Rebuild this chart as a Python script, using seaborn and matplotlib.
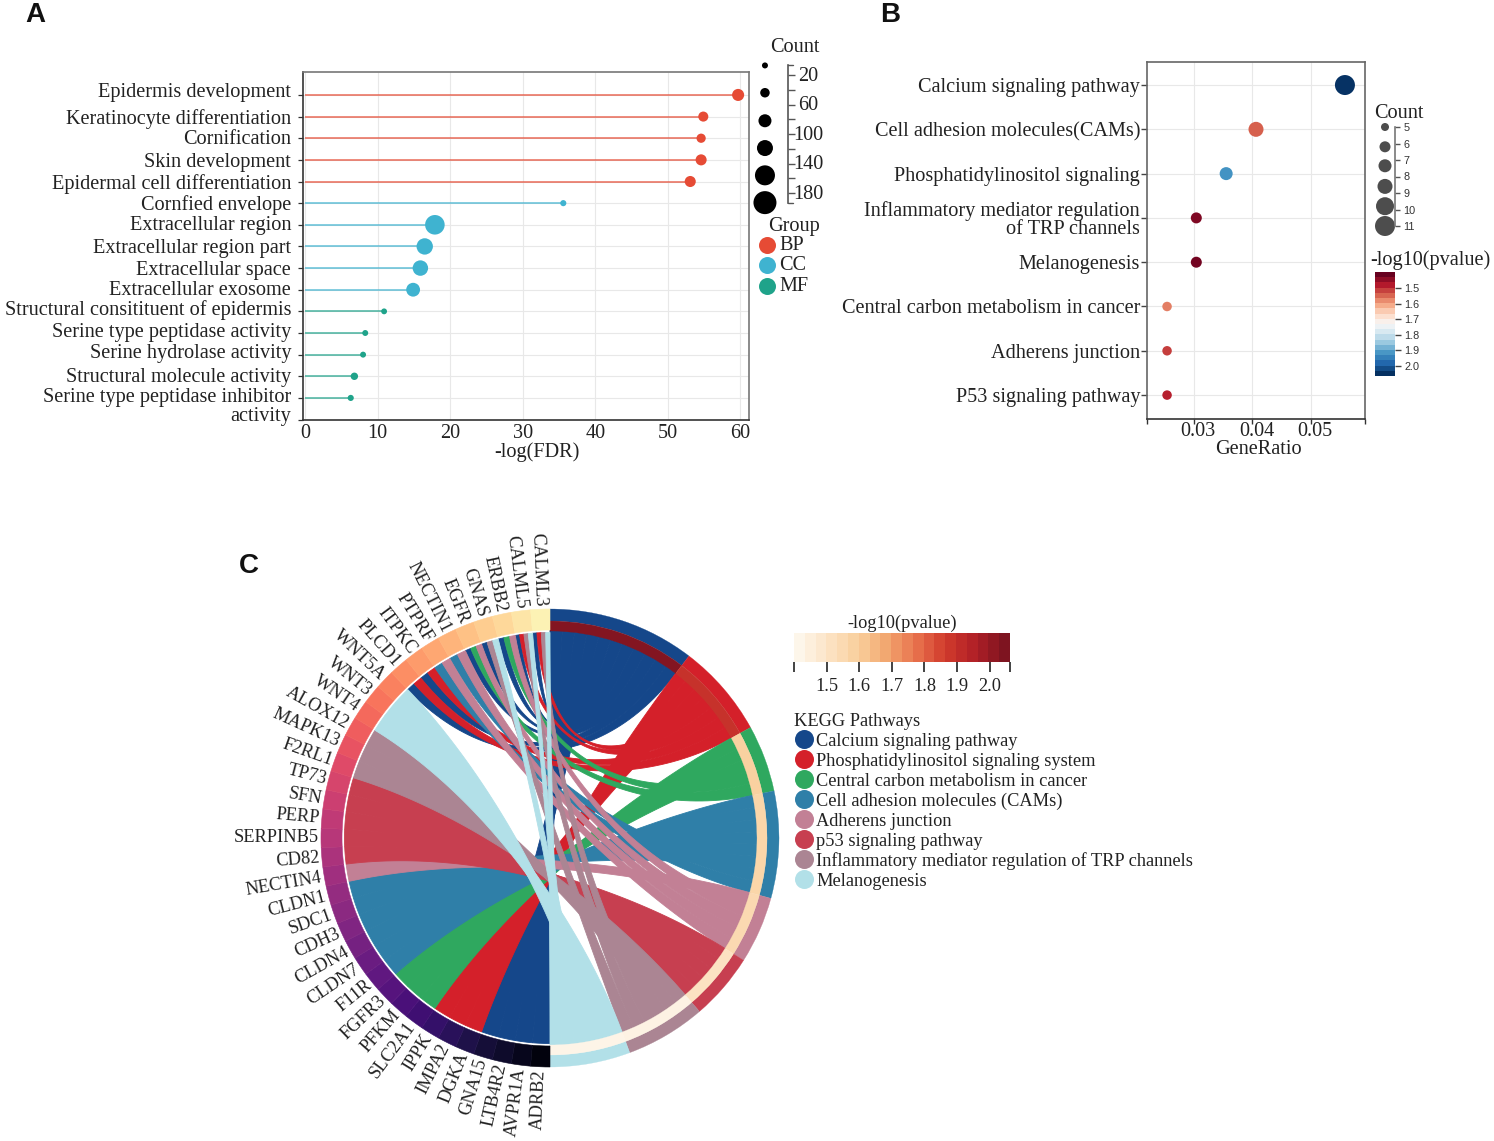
import numpy as np
import pandas as pd
import matplotlib
matplotlib.use("Agg")
import matplotlib.pyplot as plt
from matplotlib.patches import Wedge, Polygon
from matplotlib.cm import ScalarMappable
from matplotlib.colors import Normalize, LinearSegmentedColormap, BoundaryNorm, ListedColormap
from matplotlib.transforms import ScaledTranslation
import seaborn as sns

# ---------- data ----------
terms_a = ["Epidermis development", "Keratinocyte differentiation", "Cornification", "Skin development",
           "Epidermal cell differentiation", "Cornfied envelope", "Extracellular region", "Extracellular region part",
           "Extracellular space", "Extracellular exosome", "Structural consitituent of epidermis",
           "Serine type peptidase activity", "Serine hydrolase activity", "Structural molecule activity",
           "Serine type peptidase inhibitor\nactivity"]
fdr_a = [59.7, 54.9, 54.6, 54.6, 53.1, 35.6, 17.9, 16.5, 15.9, 14.9, 10.9, 8.3, 8.0, 6.8, 6.3]
count_a = [73, 51, 42, 62, 62, 8, 155, 120, 110, 92, 5, 6, 6, 22, 8]
group_a = ["BP"] * 5 + ["CC"] * 5 + ["MF"] * 5
group_names = ["BP", "CC", "MF"]
group_colors = ["#e64b35", "#3fb3d0", "#1fa38a"]
count_ticks_a = [20, 60, 100, 140, 180]
count_minor_a = [40, 80, 120, 160]
count_legend_a = [7, 44, 82, 119, 156, 193]

terms_b = ["Calcium signaling pathway", "Cell adhesion molecules(CAMs)", "Phosphatidylinositol signaling",
           "Inflammatory mediator regulation\nof TRP channels", "Melanogenesis",
           "Central carbon metabolism in cancer", "Adherens junction", "P53 signaling pathway"]
ratio_b = [0.0558, 0.0406, 0.0355, 0.0304, 0.0304, 0.0254, 0.0254, 0.0254]
count_b = [11, 8, 7, 6, 6, 5, 5, 5]
logp_b = [2.06, 1.53, 1.93, 1.42, 1.41, 1.56, 1.50, 1.47]
count_legend_b = [5, 6, 7, 8, 9, 10]

pathways = ["Calcium signaling pathway", "Phosphatidylinositol signaling system",
            "Central carbon metabolism in cancer", "Cell adhesion molecules (CAMs)", "Adherens junction",
            "p53 signaling pathway", "Inflammatory mediator regulation of TRP channels", "Melanogenesis"]
pathway_colors = ["#15478a", "#d4202a", "#2fa85f", "#2f7fa8", "#c28095", "#c73f50", "#ab8593", "#b2e0e8"]
logp_c = [2.05, 1.90, 1.58, 1.56, 1.54, 1.50, 1.42, 1.41]
genes = ["ADRB2", "AVPR1A", "LTB4R2", "GNA15", "DGKA", "IMPA2", "IPPK", "SLC2A1", "PFKM", "FGFR3", "F11R", "CLDN7",
         "CLDN4", "CDH3", "SDC1", "CLDN1", "NECTIN4", "CD82", "SERPINB5", "PERP", "SFN", "TP73", "F2RL1", "MAPK13",
         "ALOX12", "WNT4", "WNT3", "WNT5A", "PLCD1", "ITPKC", "PTPRF", "NECTIN1", "EGFR", "GNAS", "ERBB2", "CALML5",
         "CALML3"]
members = [
    ["ADRB2", "AVPR1A", "LTB4R2", "GNA15", "CALML3", "CALML5", "ERBB2", "GNAS", "EGFR", "ITPKC", "PLCD1"],
    ["DGKA", "IMPA2", "IPPK", "CALML3", "CALML5", "ITPKC", "PLCD1"],
    ["SLC2A1", "PFKM", "FGFR3", "ERBB2", "EGFR"],
    ["F11R", "CLDN7", "CLDN4", "CDH3", "SDC1", "CLDN1", "NECTIN1", "PTPRF"],
    ["NECTIN4", "ERBB2", "EGFR", "NECTIN1", "PTPRF"],
    ["CD82", "SERPINB5", "PERP", "SFN", "TP73"],
    ["F2RL1", "MAPK13", "ALOX12", "CALML3", "CALML5", "GNAS"],
    ["WNT4", "WNT3", "WNT5A", "GNAS", "CALML5", "CALML3"],
]

# ---------- style ----------
W, H = 1494, 1141
sns.set_theme(style="white")
plt.rcParams["font.family"] = ["Liberation Serif", "DejaVu Serif"]
plt.rcParams["text.color"] = "#222222"
plt.rcParams["axes.labelcolor"] = "#222222"
plt.rcParams["xtick.color"] = "#222222"
plt.rcParams["ytick.color"] = "#222222"
FS = 14.6
fig = plt.figure(figsize=(W / 100, H / 100), dpi=100, facecolor="white")

def px_axes(x0, y0, x1, y1, **kw):
    return fig.add_axes([x0 / W, 1 - y1 / H, (x1 - x0) / W, (y1 - y0) / H], **kw)

overlay = px_axes(0, 0, W, H, zorder=10)
overlay.set_xlim(0, W); overlay.set_ylim(H, 0); overlay.axis("off"); overlay.patch.set_alpha(0)

for s, x, y in [("A", 35, 15), ("B", 890, 15), ("C", 249, 566)]:
    overlay.text(x, y, s, family="Liberation Sans", weight="bold", fontsize=20, ha="center", va="center", color="#111111")

def d2s(d):
    return (d * 0.72) ** 2

# ---------- panel A ----------
ax = px_axes(303, 72, 749, 420)
df_a = pd.DataFrame({"term": terms_a, "fdr": fdr_a, "count": count_a, "group": group_a})
pal_a = dict(zip(group_names, group_colors))
dia_a = lambda c: 5.4 + 0.0914 * c
ax.hlines(df_a["term"], 0, df_a["fdr"], colors=df_a["group"].map(pal_a), lw=1.2, alpha=0.75, zorder=2)
sns.scatterplot(data=df_a, x="fdr", y="term", hue="group", palette=pal_a, size="count",
                sizes={c: d2s(dia_a(c)) for c in df_a["count"].unique()}, linewidth=0, legend=False, ax=ax, zorder=3)
ax.set_xlim(-0.28, 61.2); ax.set_ylim(15.02, -1.06)
ax.set_xticks(range(0, 61, 10))
ax.set_yticks([15.02], minor=True)
ax.grid(True, color="#e8e8e8", lw=0.8); ax.set_axisbelow(True)
for k, sp in ax.spines.items():
    sp.set_color("#333333" if k in ("left", "bottom") else "#777777"); sp.set_linewidth(1.2)
ax.tick_params(axis="x", labelsize=FS, length=0, pad=3)
ax.tick_params(axis="y", which="both", labelsize=FS, length=3.6, width=0.9, color="#333333", pad=5, left=True)
ax.set_xlabel("-log(FDR)", fontsize=FS); ax.set_ylabel("")
ax.xaxis.set_label_coords((537 - 303) / 446, -0.065)
label_shift_a = [5, 0, 1, 0, 0, 1, 2, 0, 0, 2, 4, 3, 4, 1, -7]
for lab, dy in zip(ax.get_yticklabels(), label_shift_a):
    lab.set_transform(lab.get_transform() + ScaledTranslation(0, dy / 100, fig.dpi_scale_trans))
    lab.set_linespacing(0.95)

# Count scale A
axc = px_axes(788, 65, 800, 203)
axc.set_ylim(193.5, 6.4); axc.set_xlim(0, 1); axc.patch.set_alpha(0)
for k in ["top", "right", "bottom"]:
    axc.spines[k].set_visible(False)
axc.spines["left"].set_color("#555555"); axc.spines["left"].set_linewidth(1.2)
axc.set_xticks([])
axc.yaxis.set_ticks_position("left")
axc.set_yticks(count_ticks_a); axc.set_yticks(count_minor_a, minor=True)
axc.tick_params(axis="y", which="both", direction="in", length=5, width=1, color="#555555", labelleft=False)
for c in count_ticks_a:
    axc.annotate(str(c), (1.67, c), xycoords=axc.get_yaxis_transform(), xytext=(0, -1.0), textcoords="offset points",
                 ha="center", va="center", fontsize=FS, annotation_clip=False)
for yy in (6.4, 193.5):
    axc.plot([0, 0.42], [yy, yy], color="#555555", lw=1, clip_on=False)
leg_a = pd.DataFrame({"x": [-1.92] * 6, "y": count_legend_a, "d": [6, 9.5, 13, 16, 20, 23]})
sns.scatterplot(data=leg_a, x="x", y="y", size="d", sizes={d: d2s(d) for d in leg_a["d"]}, color="black",
                linewidth=0, legend=False, ax=axc, clip_on=False)
axc.set_xlim(0, 1); axc.set_ylim(193.5, 6.4); axc.set_xlabel(""); axc.set_ylabel("")
overlay.text(795, 48, "Count", fontsize=FS, ha="center", va="center")
overlay.text(794, 227, "Group", fontsize=FS, ha="center", va="center")
for i, (g, c) in enumerate(zip(group_names, group_colors)):
    yy = 244.5 + i * 20.5
    overlay.scatter([767], [yy], s=d2s(17), color=c, linewidth=0)
    overlay.text(779, yy + 1, g, fontsize=FS, ha="left", va="center")

# ---------- panel B ----------
bx = px_axes(1147, 62, 1365, 419)
df_b = pd.DataFrame({"term": terms_b, "ratio": ratio_b, "count": count_b, "logp": logp_b})
norm_b = Normalize(1.397, 2.064)
dia_b = {5: 9.5, 6: 11, 7: 13, 8: 15, 11: 20}
sns.scatterplot(data=df_b, x="ratio", y="term", hue="logp", palette="RdBu", hue_norm=norm_b, size="count",
                sizes={c: d2s(d) for c, d in dia_b.items()}, linewidth=0, legend=False, ax=bx, zorder=3)
bx.set_xlim(0.02197, 0.05923); bx.set_ylim(7.54, -0.52)
bx.set_xticks([0.03, 0.04, 0.05]); bx.set_xticklabels(["0.03", "0.04", "0.05"])
bx.set_xticks([0.02197, 0.05923], minor=True)
bx.grid(True, color="#e8e8e8", lw=0.8); bx.set_axisbelow(True)
for k, sp in bx.spines.items():
    sp.set_color("#666666"); sp.set_linewidth(1.2)
bx.spines["bottom"].set_color("#333333")
bx.tick_params(axis="y", labelsize=FS, length=4, width=1, color="#444444", pad=1, left=True)
bx.tick_params(axis="x", which="both", labelsize=FS, length=3.6, width=1, color="#333333", pad=-1.5, bottom=True)
bx.set_xlabel("GeneRatio", fontsize=FS); bx.set_ylabel("")
bx.xaxis.set_label_coords((1258 - 1147) / 218, -0.06)
for lab in bx.get_yticklabels():
    lab.set_linespacing(0.95)
for lab in bx.get_xticklabels():
    lab.set_transform(lab.get_transform() + ScaledTranslation(4 / 100, 0, fig.dpi_scale_trans))

# Count scale B
axb = px_axes(1394, 127, 1395, 226)
axb.set_ylim(11, 5); axb.set_xlim(0, 1); axb.patch.set_alpha(0)
for k in ["top", "left", "bottom"]:
    axb.spines[k].set_visible(False)
axb.spines["right"].set_color("#777777"); axb.spines["right"].set_linewidth(1.2)
axb.set_xticks([]); axb.set_yticks(range(5, 12))
axb.yaxis.tick_right()
axb.tick_params(axis="y", direction="out", length=3.6, width=1, color="#555555", pad=2.5)
for lab in axb.get_yticklabels():
    lab.set_family("Liberation Sans"); lab.set_fontsize(7.8); lab.set_color("#333333")
leg_b = pd.DataFrame({"x": [-9.0] * 6, "y": [5, 6.2, 7.35, 8.6, 9.8, 11.0], "d": [8, 11, 13, 15, 18, 20]})
sns.scatterplot(data=leg_b, x="x", y="y", size="d", sizes={d: d2s(d) for d in leg_b["d"]}, color="#4d4d4d",
                linewidth=0, legend=False, ax=axb, clip_on=False)
axb.set_xlim(0, 1); axb.set_ylim(11, 5); axb.set_xlabel(""); axb.set_ylabel("")
overlay.text(1399, 114, "Count", fontsize=FS, ha="center", va="center")
overlay.text(1430, 260, "-log10(pvalue)", fontsize=FS, ha="center", va="center")

cb = px_axes(1375, 272, 1395, 376)
rb = plt.get_cmap("RdBu")
cbar = fig.colorbar(ScalarMappable(norm=BoundaryNorm(np.linspace(1.397, 2.064, 21), 20),
                                   cmap=ListedColormap(rb(np.linspace(0, 1, 20)))), cax=cb, spacing="proportional")
cb.invert_yaxis()
cbar.set_ticks([1.5, 1.6, 1.7, 1.8, 1.9, 2.0]); cbar.outline.set_visible(False); cbar.minorticks_off()
cb.tick_params(length=4, width=1, color="#444444", pad=2.5)
for lab in cb.get_yticklabels():
    lab.set_family("Liberation Sans"); lab.set_fontsize(7.8); lab.set_color("#333333")

# ---------- panel C ----------
cx = px_axes(550 - 300, 838 - 300, 550 + 300, 838 + 300)
cx.set_xlim(-300, 300); cx.set_ylim(-300, 300); cx.axis("off"); cx.patch.set_alpha(0)
R_OUT, R_MID, R_IN, R_GENE_IN = 229, 217, 207, 208
R_RIB_P, R_RIB_G = 207.5, 205.5
unit_p = 180 / sum(len(m) for m in members)
unit_g = 180 / len(genes)
oranges = LinearSegmentedColormap.from_list("ringmap", ["#fdf6ea", "#fce3c4", "#f9cf9c", "#f2a56e", "#e8704c",
                                                       "#d03a2c", "#b01f27", "#7e1420"])
norm_c = Normalize(1.4, 2.0625)
gene_pal = sns.color_palette("magma", len(genes))

def xy(a, r):
    a = np.radians(a)
    return np.column_stack([r * np.sin(a), r * np.cos(a)])

def bez(p, q, w=0.8, n=60):
    t = np.linspace(0, 1, n)[:, None]
    return ((1 - t) ** 2 * p + t ** 2 * q) / ((1 - t) ** 2 + 2 * w * t * (1 - t) + t ** 2)

gene_links = {g: [i for i, m in enumerate(members) if g in m] for g in genes}
gene_arc = {}
for gi, g in enumerate(genes):
    st = 180 + gi * unit_g
    step = unit_g / len(gene_links[g])
    for k, pi in enumerate(gene_links[g]):
        gene_arc[(g, pi)] = (st + k * step, st + (k + 1) * step)

start = 0.0
for pi, m in enumerate(members):
    end = start + len(m) * unit_p
    col = pathway_colors[pi]
    for k, g in enumerate(m):
        a1, a2 = start + k * unit_p, start + (k + 1) * unit_p
        b1, b2 = gene_arc[(g, pi)]
        arc_a = xy(np.linspace(a1, a2, 12), R_RIB_P)
        arc_b = xy(np.linspace(b1, b2, 12), R_RIB_G)
        pts = np.vstack([arc_a, bez(arc_a[-1:], arc_b[:1]), arc_b, bez(arc_b[-1:], arc_a[:1])])
        cx.add_patch(Polygon(pts, closed=True, facecolor=col, edgecolor=col, lw=0.6, zorder=2 + pi * 0.1))
    cx.add_patch(Wedge((0, 0), R_OUT, 90 - end, 90 - start, width=R_OUT - R_MID, facecolor=col, edgecolor=col, lw=0.2, zorder=4))
    ring = oranges(norm_c(logp_c[pi]))
    cx.add_patch(Wedge((0, 0), R_MID, 90 - end, 90 - start, width=R_MID - R_IN, facecolor=ring, edgecolor=ring, lw=0.2, zorder=4))
    start = end

for gi, g in enumerate(genes):
    a1, a2 = 180 + gi * unit_g, 180 + (gi + 1) * unit_g
    cx.add_patch(Wedge((0, 0), R_OUT, 90 - a2, 90 - a1, width=R_OUT - R_GENE_IN, facecolor=gene_pal[gi],
                       edgecolor=gene_pal[gi], lw=0.4, zorder=4))
    mid = (a1 + a2) / 2
    p = xy(np.array([mid]), 231.5)[0]
    cx.text(p[0], p[1], g, rotation=270 - mid, rotation_mode="anchor", ha="right", va="center",
            fontsize=13.2, clip_on=False)

# colorbar C
cc = px_axes(794, 633, 1010, 662)
bins = np.linspace(1.4, 2.0625, 21)
cbar2 = fig.colorbar(ScalarMappable(norm=BoundaryNorm(bins, 20), cmap=ListedColormap(oranges(np.linspace(0, 1, 20)))),
                     cax=cc, orientation="horizontal", spacing="proportional")
cbar2.set_ticks([1.4, 1.5, 1.6, 1.7, 1.8, 1.9, 2.0, 2.0625]); cbar2.outline.set_visible(False); cbar2.minorticks_off()
cbar2.set_ticklabels(["", "1.5", "1.6", "1.7", "1.8", "1.9", "2.0", ""])
cc.tick_params(length=7.2, width=1.2, color="#222222", labelsize=13.2, pad=4)
overlay.text(902, 623, "-log10(pvalue)", fontsize=13.2, ha="center", va="center")
overlay.text(794, 721, "KEGG Pathways", fontsize=13.2, ha="left", va="center")
for i, (n, c) in enumerate(zip(pathways, pathway_colors)):
    yy = 739 + i * 20
    overlay.scatter([804], [yy], s=d2s(19), color=c, linewidth=0)
    overlay.text(816, yy + 2, n, fontsize=13.2, ha="left", va="center")

fig.savefig("out.png", dpi=100, facecolor="white")
